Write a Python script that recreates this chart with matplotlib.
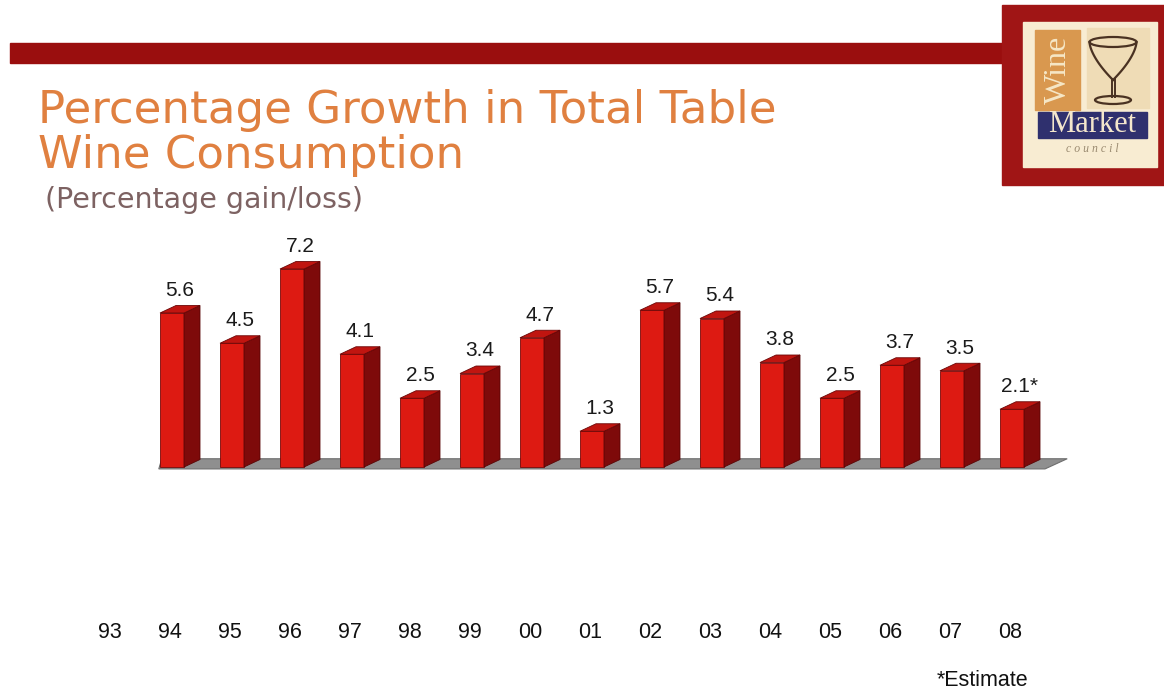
import matplotlib
matplotlib.use("Agg")
import matplotlib.pyplot as plt
from matplotlib.patches import Polygon, Rectangle, Ellipse
import numpy as np

# values shown on top of each bar
values = [5.6, 4.5, 7.2, 4.1, 2.5, 3.4, 4.7, 1.3, 5.7, 5.4, 3.8, 2.5, 3.7, 3.5, 2.1]
value_labels = ["5.6", "4.5", "7.2", "4.1", "2.5", "3.4", "4.7", "1.3",
                "5.7", "5.4", "3.8", "2.5", "3.7", "3.5", "2.1*"]
years = ["93", "94", "95", "96", "97", "98", "99", "00",
         "01", "02", "03", "04", "05", "06", "07", "08"]

W, H = 1164, 690
fig = plt.figure(figsize=(W / 100, H / 100), dpi=100)
fig.patch.set_facecolor("white")


def fx(px):
    return px / W


def fy(py):
    return 1 - py / H


# header: dark red band
fig.patches.append(Rectangle((fx(10), fy(63)), fx(1002) - fx(10), (63 - 43) / H,
                             transform=fig.transFigure, color="#9a0e0e", zorder=1))

fig.text(fx(38), fy(123), "Percentage Growth in Total Table", fontsize=32.5,
         color="#e08040", va="baseline", ha="left", family="DejaVu Sans")
fig.text(fx(38), fy(168), "Wine Consumption", fontsize=32.5,
         color="#e08040", va="baseline", ha="left", family="DejaVu Sans")
fig.text(fx(45), fy(200), "(Percentage gain/loss)", fontsize=20.5,
         color="#7d6262", va="center", ha="left", family="DejaVu Sans")

# ---- logo ----
logo = fig.add_axes([0, 0, 1, 1], zorder=5)
logo.set_xlim(0, W)
logo.set_ylim(H, 0)
logo.axis("off")
logo.patch.set_alpha(0)
logo.add_patch(Rectangle((1002, 5), 162, 180, color="#a01515"))
logo.add_patch(Rectangle((1023, 22), 134, 145, color="#f8ecd2"))
logo.add_patch(Rectangle((1087, 28), 62, 80, color="#efdcb6"))
logo.add_patch(Rectangle((1035, 30), 45, 80, color="#d9984f"))
logo.text(1058, 70, "Wine", rotation=90, fontsize=23, color="#f6e7c6",
          family="Liberation Serif", ha="center", va="center")
logo.add_patch(Rectangle((1038, 112), 109, 26, color="#2f306e"))
logo.text(1092, 125, "Market", fontsize=22, color="#f3e6cc",
          family="Liberation Serif", ha="center", va="center")
logo.text(1092, 149, "c o u n c i l", fontsize=8.5, color="#9a8a70",
          family="Liberation Serif", style="italic", ha="center", va="center")
# glass
gc = "#4a3222"
logo.add_patch(Ellipse((1113, 42), 47, 10, fill=False, ec=gc, lw=1.6))
t = np.linspace(0, 1, 40)
bx_l = 1089.5 + (1113 - 1089.5) * t ** 1.6
bx_r = 1136.5 - (1136.5 - 1113) * t ** 1.6
by = 42 + 38 * t
logo.plot(bx_l, by, color=gc, lw=1.6)
logo.plot(bx_r, by, color=gc, lw=1.6)
logo.plot([1111.5, 1111.5], [79, 97], color=gc, lw=1.4)
logo.plot([1114.5, 1114.5], [79, 97], color=gc, lw=1.4)
logo.add_patch(Ellipse((1113, 100), 36, 8, fill=False, ec=gc, lw=1.6))

# ---- bars ----
ax = fig.add_axes([0, 0, 1, 1], zorder=2)
ax.patch.set_alpha(0)
ax.axis("off")
x0, step = 172, 60          # pixel position of the first bar, spacing
base, unit = 467, 27.5      # pixel of value 0, pixels per unit
ax.set_xlim(-x0 / step, (W - x0) / step)
ax.set_ylim(-(H - base) / unit, base / unit)

hw = 12 / step              # half width of the front face
dx = 16 / step              # depth offset
dy = 7.5 / unit

# floor
floor = Polygon([(-0.22, -0.07), (14.55, -0.07), (14.92, 0.3), (-0.17, 0.3)],
                closed=True, fc="#8f8f8f", ec="#6e6e6e", lw=0.8, zorder=1)
ax.add_patch(floor)

xs = np.arange(len(values))
for x, v, lab in zip(xs, values, value_labels):
    front = Rectangle((x - hw, 0), 2 * hw, v, fc="#dd1a12", ec="#7a0808", lw=0.6, zorder=3)
    side = Polygon([(x + hw, 0), (x + hw + dx, dy), (x + hw + dx, v + dy), (x + hw, v)],
                   closed=True, fc="#7e0a0a", ec="#5a0505", lw=0.6, zorder=3)
    top = Polygon([(x - hw, v), (x + hw, v), (x + hw + dx, v + dy), (x - hw + dx, v + dy)],
                  closed=True, fc="#c01510", ec="#6a0606", lw=0.6, zorder=3)
    ax.add_patch(front)
    ax.add_patch(side)
    ax.add_patch(top)
    ax.text(x + dx / 2, v + dy + 0.2, lab, ha="center", va="bottom",
            fontsize=15, color="#1a1a1a", family="Liberation Sans", zorder=4)

# year row, shifted one slot to the left of the bars
for k, yr in enumerate(years):
    ax.text(k - 1.03, -6.0, yr, ha="center", va="center", fontsize=15.5,
            color="#111111", family="Liberation Sans")

fig.text(fx(983), fy(686), "*Estimate", ha="center", va="baseline",
         fontsize=15.5, color="#111111", family="Liberation Sans")

fig.savefig("out.png", dpi=100, facecolor="white")
